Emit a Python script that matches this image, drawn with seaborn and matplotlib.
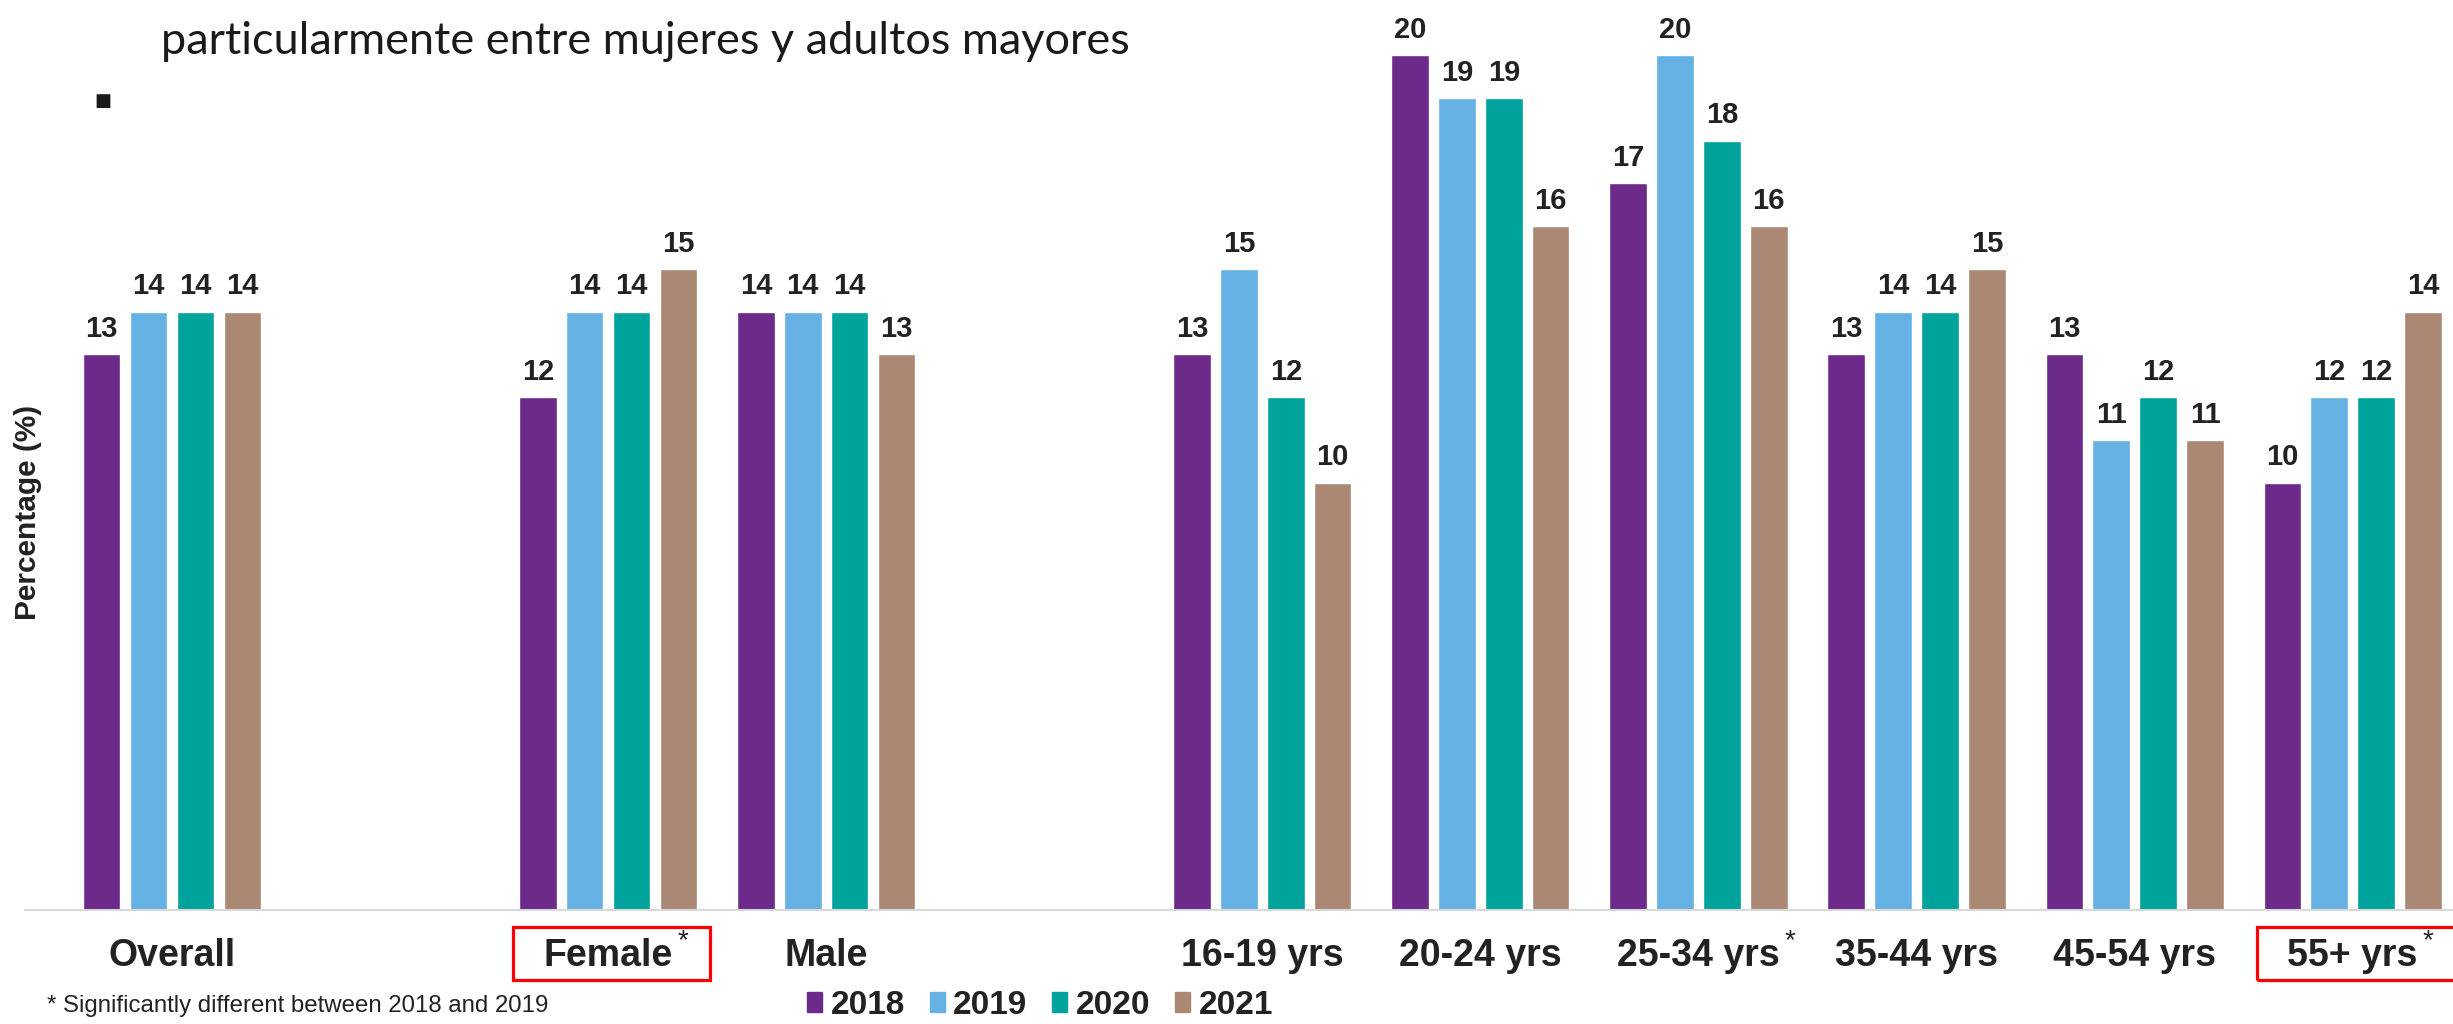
import seaborn as sns
import matplotlib.pyplot as plt
import matplotlib.patches as mpatches
import matplotlib.transforms as mtransforms
import pandas as pd

# datos
grupos = ["Overall", "Female", "Male", "16-19 yrs", "20-24 yrs",
          "25-34 yrs", "35-44 yrs", "45-54 yrs", "55+ yrs"]
anios = ["2018", "2019", "2020", "2021"]
v2018 = [13, 12, 14, 13, 20, 17, 13, 13, 10]
v2019 = [14, 14, 14, 15, 19, 20, 14, 11, 12]
v2020 = [14, 14, 14, 12, 19, 18, 14, 12, 12]
v2021 = [14, 15, 13, 10, 16, 16, 15, 11, 14]
colores = ["#6C2A8B", "#65B1E4", "#00A39B", "#AB8874"]

# huecos entre bloques de categorias
orden = ["Overall", " ", "Female", "Male", "  ", "16-19 yrs", "20-24 yrs",
         "25-34 yrs", "35-44 yrs", "45-54 yrs", "55+ yrs"]
con_asterisco = ["Female", "25-34 yrs", "55+ yrs"]
con_caja = ["Female", "55+ yrs"]

filas = []
for anio, vals in zip(anios, [v2018, v2019, v2020, v2021]):
    for g, v in zip(grupos, vals):
        filas.append({"Grupo": g, "Anio": anio, "Valor": v})
df = pd.DataFrame(filas)

sns.set_theme(style="white")
plt.rcParams["font.family"] = ["Liberation Sans", "DejaVu Sans"]

fig = plt.figure(figsize=(24.53, 10.24), dpi=100)
ax = fig.add_axes([25 / 2453, 1 - 910 / 1024, 1 - 25 / 2453, 910 / 1024 - 0.012])

sns.barplot(data=df, x="Grupo", y="Valor", hue="Anio", order=orden, hue_order=anios,
            palette=colores, width=0.86, gap=0.2, errorbar=None, saturation=1,
            ax=ax, legend=False)

for cont in ax.containers:
    ax.bar_label(cont, fmt="%d", padding=8, fontsize=21, fontweight="bold", color="#222222")

ax.set_ylim(0, 21)
ax.set_xlim(-0.674, 10.46)
ax.set_yticks([])
ax.set_xlabel("")
ax.set_ylabel("")
ax.set_xticks(range(len(orden)))
ax.set_xticklabels([o.strip() for o in orden], fontsize=27, fontweight="bold", color="#222222")
ax.tick_params(axis="x", length=0, pad=20)

for s in ["top", "right", "left"]:
    ax.spines[s].set_visible(False)
ax.spines["bottom"].set_color("#D9D9D9")
ax.spines["bottom"].set_linewidth(1.5)

fig.text(28 / 2453, 0.5, "Percentage (%)", rotation=90, ha="center", va="center",
         fontsize=21.5, fontweight="bold", color="#222222")

fig.text(161 / 2453, 1 - 21 / 1024, "particularmente entre mujeres y adultos mayores",
         ha="left", va="top", fontsize=32.5, family=["Lato", "DejaVu Sans"], color="#1a1a1a")
fig.text(94 / 2453, 1 - 92 / 1024, "\u25A0", ha="left", va="top", fontsize=13,
         family=["DejaVu Sans"], color="#1a1a1a")

fig.text(47 / 2453, 1 - 995 / 1024, "* Significantly different between 2018 and 2019",
         ha="left", va="top", fontsize=17.3, color="#222222")

handles = [plt.Rectangle((0, 0), 1, 1, color=c) for c in colores]
fig.legend(handles, anios, loc="center", bbox_to_anchor=(1040 / 2453, 1 - 1005 / 1024),
           ncol=4, frameon=False, handlelength=0.45, handleheight=0.55,
           handletextpad=0.25, columnspacing=0.75, borderpad=0.1,
           prop={"size": 24, "weight": "bold"}, labelcolor="#222222")

# asteriscos y cajas rojas alrededor de las etiquetas
fig.canvas.draw()
rend = fig.canvas.get_renderer()
pix = mtransforms.IdentityTransform()
for t in ax.get_xticklabels():
    nombre = t.get_text()
    if nombre not in con_asterisco:
        continue
    bb = t.get_window_extent(rend)
    ast = fig.text(bb.x1 + 5, bb.y1 + 10, "*", transform=pix, ha="left", va="top",
                   fontsize=20, color="#222222")
    if nombre in con_caja:
        ab = ast.get_window_extent(rend)
        x0 = bb.x0 - 30
        x1 = ab.x1 + 22
        y0 = bb.y0 - 6
        y1 = bb.y1 + 11
        fig.patches.append(mpatches.Rectangle((x0, y0), x1 - x0, y1 - y0, transform=pix,
                                              fill=False, ec="#FF0000", lw=2.3, figure=fig))

fig.savefig("out.png", dpi=100)
